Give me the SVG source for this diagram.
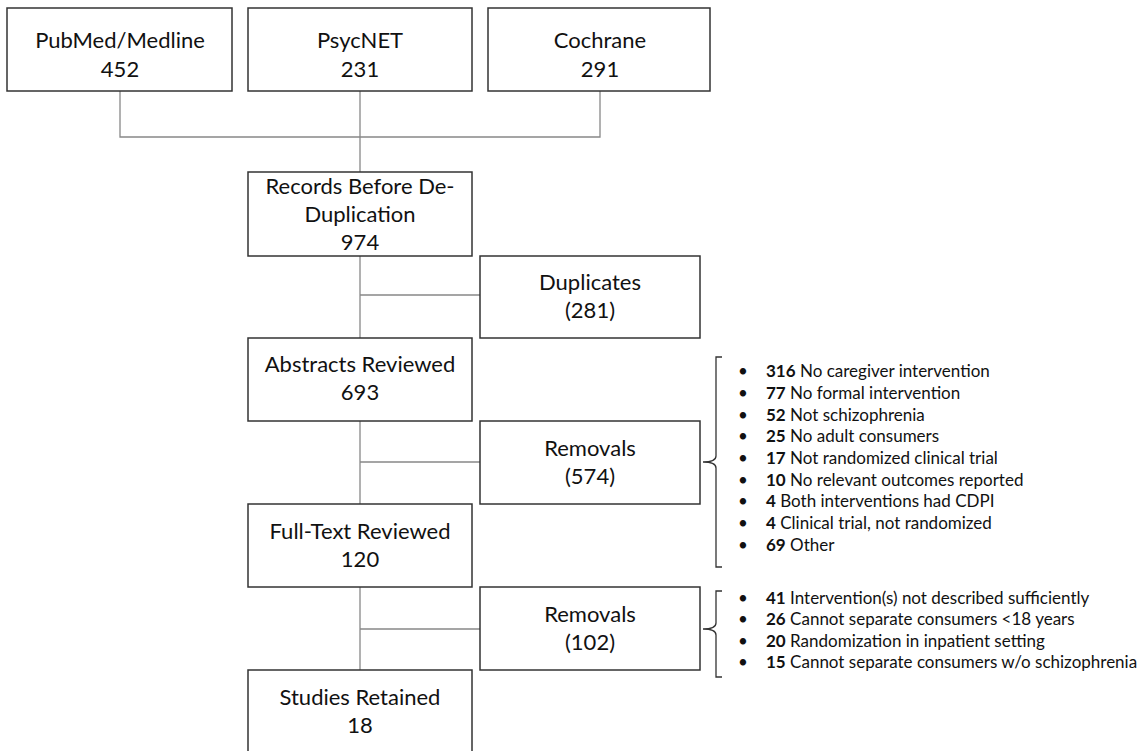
<svg xmlns="http://www.w3.org/2000/svg" width="1148" height="751" viewBox="0 0 1148 751">
<style>
.box{fill:#fff;stroke:#333;stroke-width:1.5}
.bt{font-family:Lato,"Open Sans",sans-serif;font-size:22px;fill:#111;text-anchor:middle}
.li{font-family:Lato,"Open Sans",sans-serif;font-size:17px;fill:#111}
.li tspan.b{font-weight:bold}
.con{stroke:#888;stroke-width:1.3;fill:none}
.br{stroke:#333;stroke-width:1.3;fill:none}
</style>
<rect width="1148" height="751" fill="#fff"/>
<g id="connectors">
<path class="con" d="M120 91V137H600V91M360 91V172"/>
<path class="con" d="M360 256V338M360 295H480"/>
<path class="con" d="M360 421V504M360 462H480"/>
<path class="con" d="M360 587V670M360 629H480"/>
<path class="br" d="M722 357H716V456Q716 462 703 462Q716 462 716 468V567H722"/>
<path class="br" d="M722 591H716V623Q716 629 703 629Q716 629 716 635V677H722"/>
</g>
<g id="pubmed"><rect class="box" x="7" y="8" width="225" height="83"/><text class="bt" x="120" y="48">PubMed/Medline</text><text class="bt" x="120" y="77">452</text></g>
<g id="psycnet"><rect class="box" x="248" y="8" width="224" height="83"/><text class="bt" x="360" y="48">PsycNET</text><text class="bt" x="360" y="77">231</text></g>
<g id="cochrane"><rect class="box" x="488" y="8" width="222" height="83"/><text class="bt" x="600" y="48">Cochrane</text><text class="bt" x="600" y="77">291</text></g>
<g id="records"><rect class="box" x="248" y="172" width="224" height="84"/><text class="bt" x="360" y="194">Records Before De-</text><text class="bt" x="360" y="222">Duplication</text><text class="bt" x="360" y="250">974</text></g>
<g id="duplicates"><rect class="box" x="480" y="256" width="220" height="82"/><text class="bt" x="590" y="290">Duplicates</text><text class="bt" x="590" y="318">(281)</text></g>
<g id="abstracts"><rect class="box" x="248" y="338" width="224" height="83"/><text class="bt" x="360" y="372">Abstracts Reviewed</text><text class="bt" x="360" y="400">693</text></g>
<g id="removals1"><rect class="box" x="480" y="421" width="220" height="83"/><text class="bt" x="590" y="456">Removals</text><text class="bt" x="590" y="484">(574)</text></g>
<g id="fulltext"><rect class="box" x="248" y="504" width="224" height="83"/><text class="bt" x="360" y="539">Full-Text Reviewed</text><text class="bt" x="360" y="567">120</text></g>
<g id="removals2"><rect class="box" x="480" y="587" width="220" height="83"/><text class="bt" x="590" y="622">Removals</text><text class="bt" x="590" y="650">(102)</text></g>
<g id="retained"><rect class="box" x="248" y="670" width="224" height="90"/><text class="bt" x="360" y="705">Studies Retained</text><text class="bt" x="360" y="733">18</text></g>
<g id="list1" class="li">
<text x="738" y="377">•</text><text x="766" y="377"><tspan class="b">316</tspan> No caregiver intervention</text>
<text x="738" y="399">•</text><text x="766" y="399"><tspan class="b">77</tspan> No formal intervention</text>
<text x="738" y="421">•</text><text x="766" y="421"><tspan class="b">52</tspan> Not schizophrenia</text>
<text x="738" y="442">•</text><text x="766" y="442"><tspan class="b">25</tspan> No adult consumers</text>
<text x="738" y="464">•</text><text x="766" y="464"><tspan class="b">17</tspan> Not randomized clinical trial</text>
<text x="738" y="486">•</text><text x="766" y="486"><tspan class="b">10</tspan> No relevant outcomes reported</text>
<text x="738" y="507">•</text><text x="766" y="507"><tspan class="b">4</tspan> Both interventions had CDPI</text>
<text x="738" y="529">•</text><text x="766" y="529"><tspan class="b">4</tspan> Clinical trial, not randomized</text>
<text x="738" y="551">•</text><text x="766" y="551"><tspan class="b">69</tspan> Other</text>
</g>
<g id="list2" class="li">
<text x="738" y="604">•</text><text x="766" y="604"><tspan class="b">41</tspan> Intervention(s) not described sufficiently</text>
<text x="738" y="625">•</text><text x="766" y="625"><tspan class="b">26</tspan> Cannot separate consumers &lt;18 years</text>
<text x="738" y="647">•</text><text x="766" y="647"><tspan class="b">20</tspan> Randomization in inpatient setting</text>
<text x="738" y="668">•</text><text x="766" y="668"><tspan class="b">15</tspan> Cannot separate consumers w/o schizophrenia</text>
</g>
</svg>
